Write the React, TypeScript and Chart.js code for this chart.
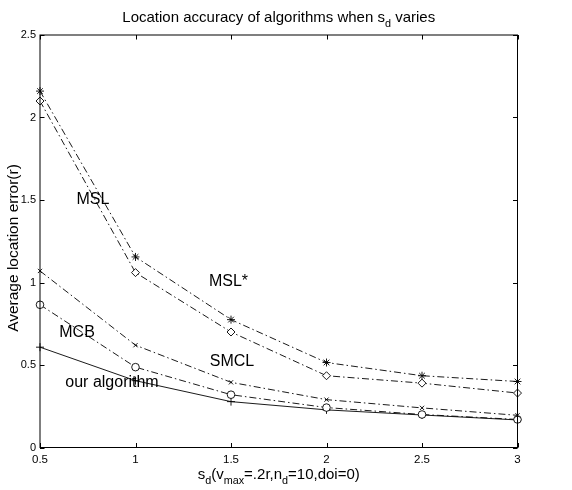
import React, { useEffect, useRef } from "react";
import { Chart, registerables } from "chart.js";

Chart.register(...registerables);

const xValues = [0.5, 1, 1.5, 2, 2.5, 3];
const mslValues = [2.16, 1.155, 0.775, 0.515, 0.435, 0.4];
const mslStarValues = [2.1, 1.06, 0.7, 0.435, 0.39, 0.33];
const smclValues = [1.07, 0.62, 0.395, 0.29, 0.24, 0.195];
const mcbValues = [0.865, 0.487, 0.32, 0.242, 0.2, 0.17];
const oursValues = [0.608, 0.405, 0.278, 0.228, 0.197, 0.167];

const xTicks = [0.5, 1, 1.5, 2, 2.5, 3];
const yTicks = [0, 0.5, 1, 1.5, 2, 2.5];

const curveLabels = [
  { text: "MSL", x: 0.777, y: 1.5 },
  { text: "MSL*", x: 1.487, y: 1.004 },
  { text: "MCB", x: 0.694, y: 0.695 },
  { text: "SMCL", x: 1.505, y: 0.519 },
  { text: "our algorithm", x: 0.877, y: 0.391 },
];

const FONT = "'Liberation Sans', Arial, Helvetica, sans-serif";
const DASHDOT = [7, 3, 1.5, 3];

type Seg = { t: string; sub?: boolean };

function segWidth(ctx: CanvasRenderingContext2D, segs: Seg[], size: number) {
  let w = 0;
  for (const s of segs) {
    ctx.font = `${s.sub ? size * 0.72 : size}px ${FONT}`;
    w += ctx.measureText(s.t).width;
  }
  return w;
}

function drawSegs(
  ctx: CanvasRenderingContext2D,
  segs: Seg[],
  size: number,
  cx: number,
  baseline: number
) {
  const total = segWidth(ctx, segs, size);
  let x = cx - total / 2;
  ctx.textAlign = "left";
  ctx.textBaseline = "alphabetic";
  for (const s of segs) {
    const fs = s.sub ? size * 0.72 : size;
    ctx.font = `${fs}px ${FONT}`;
    ctx.fillText(s.t, x, baseline + (s.sub ? size * 0.33 : 0));
    x += ctx.measureText(s.t).width;
  }
}

const decorPlugin = {
  id: "decor",
  afterDraw(chart: any) {
    const ctx: CanvasRenderingContext2D = chart.ctx;
    const { left, right, top, bottom } = chart.chartArea;
    const xs = chart.scales.x;
    const ys = chart.scales.y;
    ctx.save();
    ctx.fillStyle = "#000";
    ctx.strokeStyle = "#000";
    ctx.lineWidth = 1;
    // box
    ctx.strokeRect(left, top, right - left, bottom - top);
    // inward ticks
    const tl = 4.5;
    ctx.beginPath();
    for (const v of xTicks) {
      const px = Math.round(xs.getPixelForValue(v)) + 0.5;
      ctx.moveTo(px, bottom);
      ctx.lineTo(px, bottom - tl);
      ctx.moveTo(px, top);
      ctx.lineTo(px, top + tl);
    }
    for (const v of yTicks) {
      const py = Math.round(ys.getPixelForValue(v)) + 0.5;
      ctx.moveTo(left, py);
      ctx.lineTo(left + tl, py);
      ctx.moveTo(right, py);
      ctx.lineTo(right - tl, py);
    }
    ctx.stroke();

    // title
    const cx = (left + right) / 2;
    drawSegs(
      ctx,
      [
        { t: "Location accuracy of algorithms when s" },
        { t: "d", sub: true },
        { t: " varies" },
      ],
      15,
      cx,
      22
    );
    // x label
    drawSegs(
      ctx,
      [
        { t: "s" },
        { t: "d", sub: true },
        { t: "(v" },
        { t: "max", sub: true },
        { t: "=.2r,n" },
        { t: "d", sub: true },
        { t: "=10,doi=0)" },
      ],
      15,
      cx,
      479
    );
    // y label
    ctx.save();
    ctx.translate(18, 248);
    ctx.rotate(-Math.PI / 2);
    ctx.font = `15.5px ${FONT}`;
    ctx.textAlign = "center";
    ctx.textBaseline = "alphabetic";
    ctx.fillText("Average location error(r)", 0, 0);
    ctx.restore();

    // curve labels
    ctx.font = `16px ${FONT}`;
    ctx.textAlign = "center";
    ctx.textBaseline = "middle";
    for (const l of curveLabels) {
      ctx.fillText(l.text, xs.getPixelForValue(l.x), ys.getPixelForValue(l.y));
    }
    ctx.restore();
  },
};

function series(values: number[]) {
  return values.map((v, i) => ({ x: xValues[i], y: v }));
}

const fmt = (v: any) => String(Number(v));

export default function App() {
  const ref = useRef<HTMLCanvasElement>(null);
  useEffect(() => {
    if (!ref.current) return;
    const common = {
      borderColor: "#000",
      pointBorderColor: "#000",
      pointBackgroundColor: "#fff",
      borderWidth: 0.9,
      pointBorderWidth: 0.9,
      fill: false,
      tension: 0,
      clip: false as any,
    };
    const chart = new Chart(ref.current, {
      type: "line",
      data: {
        datasets: [
          {
            ...common,
            label: "MSL",
            data: series(mslValues),
            borderDash: DASHDOT,
            pointStyle: "star",
            pointRadius: 4,
          },
          {
            ...common,
            label: "MSL*",
            data: series(mslStarValues),
            borderDash: DASHDOT,
            pointStyle: "rectRot",
            pointRadius: 4,
          },
          {
            ...common,
            label: "SMCL",
            data: series(smclValues),
            borderDash: DASHDOT,
            pointStyle: "crossRot",
            pointRadius: 3,
          },
          {
            ...common,
            label: "MCB",
            data: series(mcbValues),
            borderDash: DASHDOT,
            pointStyle: "circle",
            pointRadius: 3.8,
          },
          {
            ...common,
            label: "our algorithm",
            data: series(oursValues),
            pointStyle: "cross",
            pointRadius: 4,
          },
        ],
      },
      options: {
        responsive: false,
        animation: false,
        events: [],
        layout: { padding: { left: 0, top: 35, right: 54.5, bottom: 0 } },
        plugins: {
          legend: { display: false },
          tooltip: { enabled: false },
          title: { display: false },
        },
        scales: {
          x: {
            type: "linear",
            min: 0.5,
            max: 3,
            afterFit: (s: any) => {
              s.height = 42.5;
            },
            afterBuildTicks: (s: any) => {
              s.ticks = xTicks.map((v) => ({ value: v }));
            },
            grid: { display: false, drawTicks: false },
            border: { display: false },
            ticks: {
              padding: 5,
              color: "#000",
              font: { size: 11.5, family: FONT },
              maxRotation: 0,
              autoSkip: false,
              callback: fmt,
            },
          },
          y: {
            type: "linear",
            min: 0,
            max: 2.5,
            afterFit: (s: any) => {
              s.width = 40;
            },
            afterBuildTicks: (s: any) => {
              s.ticks = yTicks.map((v) => ({ value: v }));
            },
            grid: { display: false, drawTicks: false },
            border: { display: false },
            ticks: {
              padding: 4,
              color: "#000",
              font: { size: 11, family: FONT },
              autoSkip: false,
              callback: fmt,
            },
          },
        },
      },
      plugins: [decorPlugin],
    } as any);
    return () => chart.destroy();
  }, []);
  return (
    <div style={{ position: "absolute", left: 0, top: 0, width: 572, height: 490, background: "#fff" }}>
      <canvas ref={ref} width={572} height={490} style={{ display: "block" }} />
    </div>
  );
}
